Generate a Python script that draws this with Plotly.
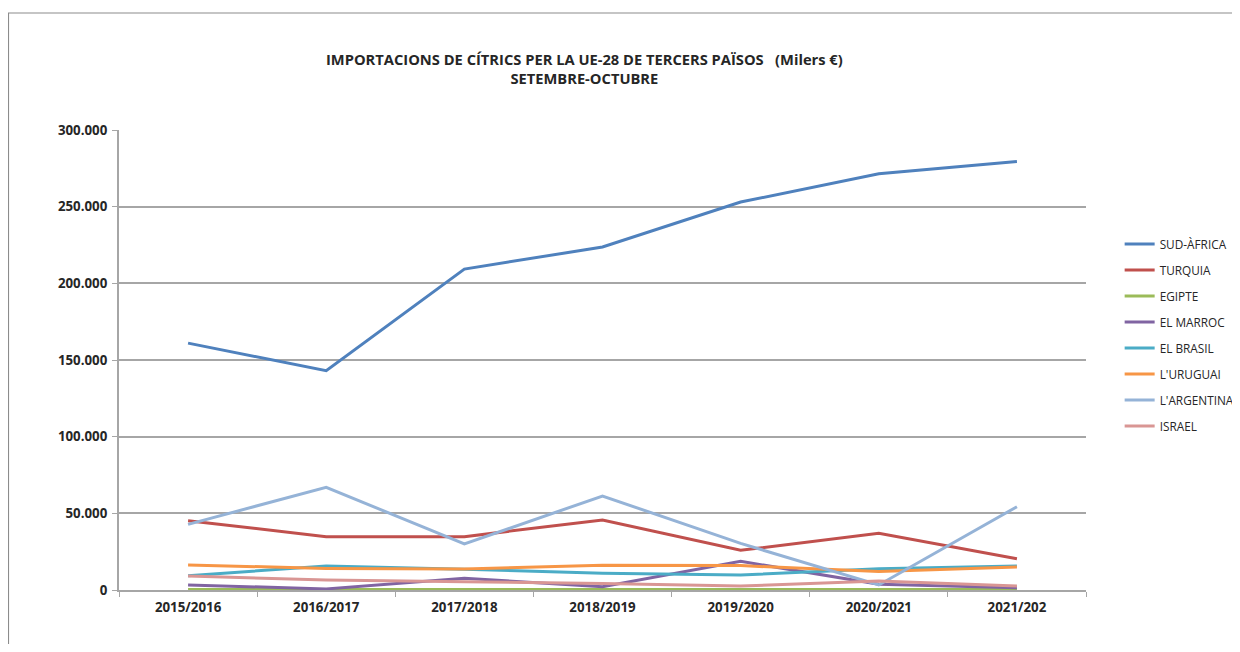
import plotly.graph_objects as go

categories = ["2015/2016", "2016/2017", "2017/2018", "2018/2019", "2019/2020", "2020/2021", "2021/202"]

sud_africa = [161000, 143000, 209300, 223700, 253000, 271500, 279500]
turquia = [45200, 34800, 34800, 45700, 25900, 37000, 20400]
egipte = [300, 300, 300, 300, 300, 300, 300]
el_marroc = [3300, 700, 7600, 2200, 18700, 3700, 1500]
el_brasil = [9300, 15700, 13500, 10900, 9800, 13900, 15700]
l_uruguai = [16300, 14100, 13700, 16100, 15900, 12000, 15000]
l_argentina = [42800, 67000, 30000, 61300, 30400, 3300, 54300]
israel = [9100, 6500, 5400, 4300, 2600, 5900, 2600]

series = [
    ("SUD-ÀFRICA", sud_africa, "#4F81BD"),
    ("TURQUIA", turquia, "#C0504D"),
    ("EGIPTE", egipte, "#9BBB59"),
    ("EL MARROC", el_marroc, "#8064A2"),
    ("EL BRASIL", el_brasil, "#4BACC6"),
    ("L'URUGUAI", l_uruguai, "#F79646"),
    ("L'ARGENTINA", l_argentina, "#95B3D7"),
    ("ISRAEL", israel, "#D99694"),
]

fig = go.Figure()
for i, (name, vals, color) in enumerate(series):
    fig.add_trace(go.Scatter(
        x=categories, y=vals, name=name, mode="lines",
        line=dict(color=color, width=3),
        legendgroup=f"g{i}",
    ))

grey = "#A6A6A6"
tickfont = dict(size=13.3, color="#262626", family="Open Sans, sans-serif", weight="bold")
fig.update_layout(
    width=1232, height=636,
    margin=dict(l=111, r=154, t=122, b=54, autoexpand=False),
    paper_bgcolor="white", plot_bgcolor="white",
    separators=",.",
    font=dict(family="Open Sans, Lato, sans-serif", color="#262626"),
    showlegend=True,
    legend=dict(
        x=1.0348, xanchor="left", y=0.7836, yanchor="top",
        font=dict(size=11.8, color="#262626"),
        tracegroupgap=7.0,
        itemwidth=30,
        bgcolor="rgba(0,0,0,0)",
    ),
    xaxis=dict(
        type="category", range=[-0.5, 6.5],
        showgrid=False, showline=True, linecolor=grey, linewidth=2,
        ticks="outside", tickson="boundaries", ticklen=5, tickcolor=grey,
        ticklabelstandoff=4,
        tickfont=tickfont,
    ),
    yaxis=dict(
        range=[0, 300000], dtick=50000, tickformat=",d",
        showgrid=True, gridcolor=grey, gridwidth=1.5,
        showline=True, linecolor=grey, linewidth=2,
        zeroline=False,
        ticks="outside", ticklen=5, tickcolor=grey,
        ticklabelstandoff=2,
        tickfont=tickfont,
    ),
    annotations=[
        dict(
            text="IMPORTACIONS DE CÍTRICS PER LA UE-28 DE TERCERS PAÏSOS   (Milers €)<br>SETEMBRE-OCTUBRE",
            xref="paper", yref="paper", x=0.481, y=1.180, xanchor="center", yanchor="top",
            showarrow=False, align="center",
            font=dict(size=14.7, color="#262626", family="Open Sans, sans-serif", weight="bold"),
        )
    ],
    shapes=[
        dict(type="rect", xref="paper", yref="paper",
             x0=-0.1143, x1=2.0, y0=-0.5, y1=1.2543,
             line=dict(color="#8C8C8C", width=1.2), layer="below"),
    ],
)

fig.write_html("out.html")
